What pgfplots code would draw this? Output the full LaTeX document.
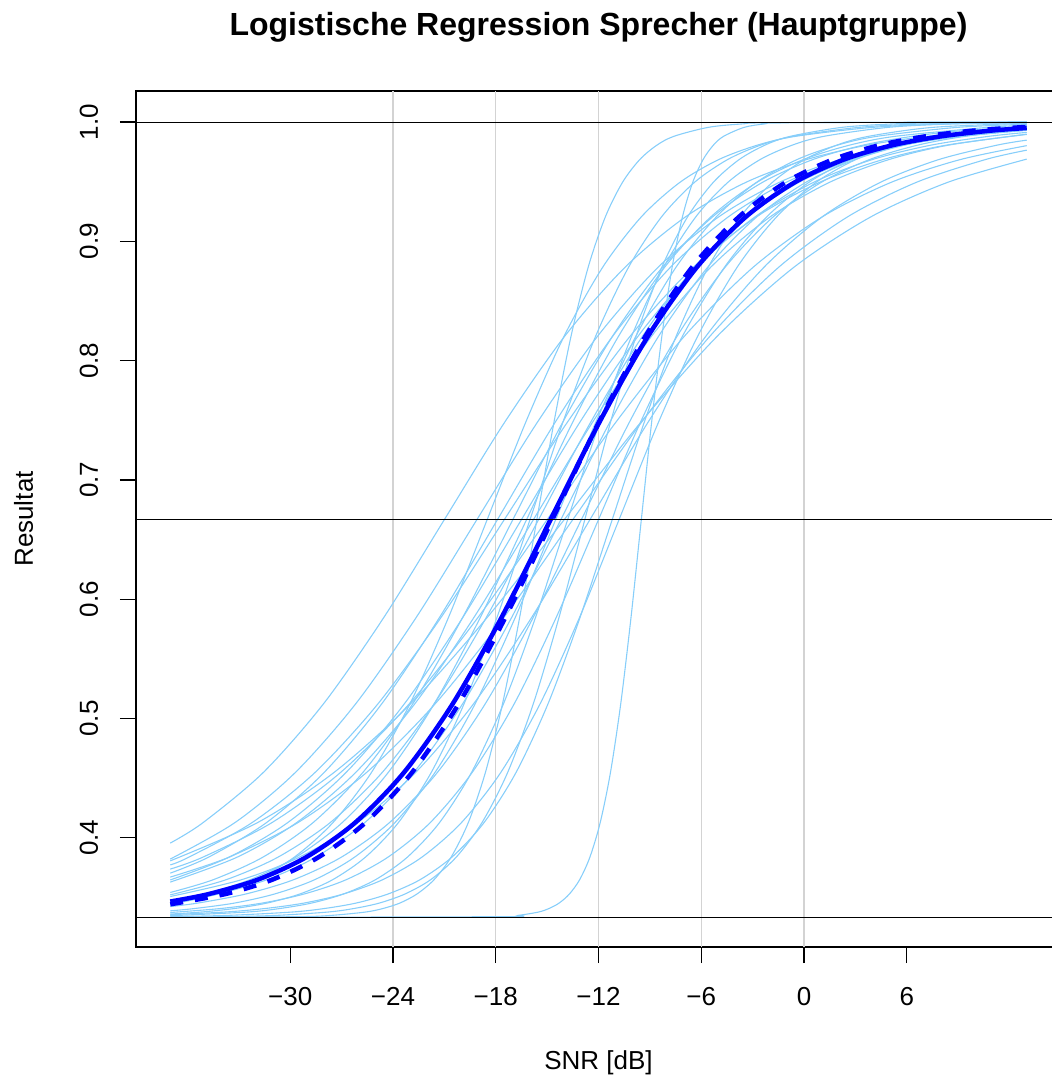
\documentclass[border=0pt]{standalone}
\usepackage{fontspec}
\setmainfont{Liberation Sans}
\usepackage{pgfplots}
\pgfplotsset{compat=1.18}
\definecolor{lsb}{RGB}{135,206,250}
\definecolor{lgray}{RGB}{211,211,211}
\pgfplotsset{spk/.style={lsb, line width=1.1pt, smooth, no markers}}
\begin{document}
\begin{tikzpicture}
\begin{axis}[
  scale only axis, width=925pt, height=856pt,
  xmin=-39, xmax=15, ymin=0.3085, ymax=1.026,
  axis line style={line width=1.3pt},
  tick pos=left, tick align=outside, major tick length=16pt,
  tick style={black, line width=1.3pt},
  xtick={-30,-24,-18,-12,-6,0,6},
  xticklabels={−30,−24,−18,−12,−6,0,6},
  ytick={0.4,0.5,0.6,0.7,0.8,0.9,1.0},
  yticklabels={0.4,0.5,0.6,0.7,0.8,0.9,1.0},
  xticklabel style={font=\fontsize{26}{26}\selectfont, anchor=base, yshift=-42pt},
  yticklabel style={font=\fontsize{26}{26}\selectfont, xshift=-22pt, rotate=90, anchor=base},
]
\coordinate (bl) at (rel axis cs:0,0);
\coordinate (tr) at (rel axis cs:1,1);
\coordinate (bc) at (rel axis cs:0.5,0);
\coordinate (tc) at (rel axis cs:0.5,1);
\coordinate (lc) at (rel axis cs:0,0.5);
% grid
\addplot[lgray, line width=1.3pt, no markers] coordinates {(-24,0.3085) (-24,1.026)};
\addplot[lgray, line width=1.3pt, no markers] coordinates {(-18,0.3085) (-18,1.026)};
\addplot[lgray, line width=1.3pt, no markers] coordinates {(-12,0.3085) (-12,1.026)};
\addplot[lgray, line width=1.3pt, no markers] coordinates {(-6,0.3085) (-6,1.026)};
\addplot[lgray, line width=1.3pt, no markers] coordinates {(0,0.3085) (0,1.026)};
% individual speakers
\addplot[spk] coordinates {(-37,0.3956) (-35.08,0.4128) (-31.56,0.4549) (-28.04,0.5126) (-24.52,0.5850) (-21,0.6667) (-17.48,0.7483) (-13.96,0.8207) (-10.44,0.8784) (-6.92,0.9205) (-3.40,0.9494) (0.12,0.9684) (3.64,0.9805) (7.16,0.9880) (10.68,0.9927) (13,0.9947)};
\addplot[spk] coordinates {(-37,0.3822) (-33.22,0.4128) (-29.69,0.4549) (-26.16,0.5126) (-22.63,0.5850) (-19.1,0.6667) (-15.57,0.7483) (-12.04,0.8207) (-8.51,0.8784) (-4.98,0.9205) (-1.45,0.9494) (2.08,0.9684) (5.61,0.9805) (9.14,0.9880) (13,0.9930)};
\addplot[spk] coordinates {(-37,0.3807) (-31.9,0.4128) (-27.43,0.4549) (-22.95,0.5126) (-18.48,0.5850) (-14,0.6667) (-9.53,0.7483) (-5.05,0.8207) (-0.58,0.8784) (3.9,0.9205) (8.38,0.9494) (13,0.9689)};
\addplot[spk] coordinates {(-37,0.3773) (-35.9,0.3839) (-32.22,0.4128) (-28.54,0.4549) (-24.86,0.5126) (-21.18,0.5850) (-17.5,0.6667) (-13.82,0.7483) (-10.14,0.8207) (-6.46,0.8784) (-2.78,0.9205) (0.9,0.9494) (4.58,0.9684) (8.26,0.9805) (13,0.9896)};
\addplot[spk] coordinates {(-37,0.3738) (-35.08,0.3839) (-31.06,0.4128) (-27.05,0.4549) (-23.03,0.5126) (-19.02,0.5850) (-15,0.6667) (-10.99,0.7483) (-6.97,0.8207) (-2.96,0.8784) (1.06,0.9205) (5.08,0.9494) (9.09,0.9684) (13,0.9802)};
\addplot[spk] coordinates {(-37,0.3704) (-34.75,0.3839) (-31.38,0.4128) (-28.01,0.4549) (-24.64,0.5126) (-21.27,0.5850) (-17.9,0.6667) (-14.53,0.7483) (-11.16,0.8207) (-7.79,0.8784) (-4.42,0.9205) (-1.05,0.9494) (2.32,0.9684) (5.69,0.9805) (9.06,0.9880) (13,0.9933)};
\addplot[spk] coordinates {(-37,0.3671) (-33.55,0.3839) (-29.54,0.4128) (-25.53,0.4549) (-21.52,0.5126) (-17.51,0.5850) (-13.5,0.6667) (-9.49,0.7483) (-5.48,0.8207) (-1.47,0.8784) (2.54,0.9205) (6.55,0.9494) (10.56,0.9684) (13,0.9764)};
\addplot[spk] coordinates {(-37,0.3647) (-33.55,0.3839) (-30.14,0.4128) (-26.73,0.4549) (-23.32,0.5126) (-19.91,0.5850) (-16.5,0.6667) (-13.09,0.7483) (-9.68,0.8207) (-6.27,0.8784) (-2.86,0.9205) (0.55,0.9494) (3.96,0.9684) (7.37,0.9805) (10.78,0.9880) (13,0.9913)};
\addplot[spk] coordinates {(-37,0.3629) (-33.08,0.3839) (-29.62,0.4128) (-26.17,0.4549) (-22.71,0.5126) (-19.26,0.5850) (-15.8,0.6667) (-12.35,0.7483) (-8.89,0.8207) (-5.44,0.8784) (-1.98,0.9205) (1.48,0.9494) (4.93,0.9684) (8.39,0.9805) (13,0.9898)};
\addplot[spk] coordinates {(-37,0.3542) (-34.49,0.3649) (-31.58,0.3839) (-28.66,0.4128) (-25.75,0.4549) (-22.83,0.5126) (-19.92,0.5850) (-17,0.6667) (-14.09,0.7483) (-11.17,0.8207) (-8.26,0.8784) (-5.34,0.9205) (-2.43,0.9494) (0.49,0.9684) (3.41,0.9805) (6.32,0.9880) (9.24,0.9927) (13,0.9961)};
\addplot[spk] coordinates {(-37,0.3522) (-33.74,0.3649) (-30.7,0.3839) (-27.66,0.4128) (-24.62,0.4549) (-21.58,0.5126) (-18.54,0.5850) (-15.5,0.6667) (-12.46,0.7483) (-9.42,0.8207) (-6.38,0.8784) (-3.34,0.9205) (-0.3,0.9494) (2.74,0.9684) (5.78,0.9805) (8.82,0.9880) (13,0.9939)};
\addplot[spk] coordinates {(-37,0.3508) (-32.84,0.3649) (-29.45,0.3839) (-26.06,0.4128) (-22.67,0.4549) (-19.28,0.5126) (-15.89,0.5850) (-12.5,0.6667) (-9.11,0.7483) (-5.72,0.8207) (-2.33,0.8784) (1.06,0.9205) (4.45,0.9494) (7.84,0.9684) (11.23,0.9805) (13,0.9848)};
\addplot[spk] coordinates {(-37,0.3470) (-35.03,0.3529) (-32.34,0.3649) (-29.65,0.3839) (-26.96,0.4128) (-24.27,0.4549) (-21.58,0.5126) (-18.89,0.5850) (-16.2,0.6667) (-13.51,0.7483) (-10.82,0.8207) (-8.13,0.8784) (-5.44,0.9205) (-2.75,0.9494) (-0.06,0.9684) (2.63,0.9805) (5.32,0.9880) (10.7,0.9955) (13,0.9971)};
\addplot[spk] coordinates {(-37,0.3455) (-34.22,0.3529) (-31.36,0.3649) (-28.5,0.3839) (-25.64,0.4128) (-22.78,0.4549) (-19.92,0.5126) (-17.06,0.5850) (-14.2,0.6667) (-11.34,0.7483) (-8.48,0.8207) (-5.62,0.8784) (-2.76,0.9205) (0.1,0.9494) (2.96,0.9684) (5.82,0.9805) (8.68,0.9880) (13,0.9943)};
\addplot[spk] coordinates {(-37,0.3424) (-35.4,0.3453) (-32.6,0.3529) (-29.8,0.3649) (-27,0.3839) (-24.2,0.4128) (-21.4,0.4549) (-18.6,0.5126) (-15.8,0.5850) (-13,0.6667) (-10.2,0.7483) (-7.4,0.8207) (-4.6,0.8784) (-1.8,0.9205) (1,0.9494) (3.8,0.9684) (6.6,0.9805) (9.4,0.9880) (13,0.9937)};
\addplot[spk] coordinates {(-37,0.3388) (-35.61,0.3407) (-33.26,0.3453) (-30.92,0.3529) (-28.57,0.3649) (-26.23,0.3839) (-23.88,0.4128) (-21.54,0.4549) (-19.19,0.5126) (-16.85,0.5850) (-14.5,0.6667) (-12.16,0.7483) (-9.81,0.8207) (-7.47,0.8784) (-5.12,0.9205) (-2.78,0.9494) (-0.43,0.9684) (1.92,0.9805) (4.26,0.9880) (8.95,0.9955) (13,0.9981)};
\addplot[spk] coordinates {(-37,0.3374) (-34.1,0.3407) (-31.64,0.3453) (-29.19,0.3529) (-26.73,0.3649) (-24.28,0.3839) (-21.82,0.4128) (-19.37,0.4549) (-16.91,0.5126) (-14.46,0.5850) (-12,0.6667) (-9.55,0.7483) (-7.09,0.8207) (-4.64,0.8784) (-2.18,0.9205) (0.28,0.9494) (2.73,0.9684) (5.19,0.9805) (7.64,0.9880) (10.1,0.9927) (13,0.9959)};
\addplot[spk] coordinates {(-37,0.3361) (-35.2,0.3378) (-33.28,0.3407) (-31.36,0.3453) (-29.44,0.3529) (-27.52,0.3649) (-25.6,0.3839) (-23.68,0.4128) (-21.76,0.4549) (-19.84,0.5126) (-17.92,0.5850) (-16,0.6667) (-14.08,0.7483) (-12.16,0.8207) (-10.24,0.8784) (-8.32,0.9205) (-6.4,0.9494) (-4.48,0.9684) (-2.56,0.9805) (-0.64,0.9880) (3.2,0.9955) (7.04,0.9984) (13,0.9996)};
\addplot[spk] coordinates {(-37,0.3347) (-32.5,0.3378) (-30.63,0.3407) (-28.76,0.3453) (-26.89,0.3529) (-25.02,0.3649) (-23.15,0.3839) (-21.28,0.4128) (-19.41,0.4549) (-17.54,0.5126) (-15.67,0.5850) (-13.8,0.6667) (-11.93,0.7483) (-10.06,0.8207) (-8.19,0.8784) (-6.32,0.9205) (-4.45,0.9494) (-2.58,0.9684) (-0.71,0.9805) (1.16,0.9880) (4.9,0.9955) (8.64,0.9984) (13,0.9995)};
\addplot[spk] coordinates {(-37,0.3340) (-33.64,0.3350) (-29.9,0.3378) (-28.03,0.3407) (-26.16,0.3453) (-24.29,0.3529) (-22.42,0.3649) (-20.55,0.3839) (-18.68,0.4128) (-16.81,0.4549) (-14.94,0.5126) (-13.07,0.5850) (-11.2,0.6667) (-9.33,0.7483) (-7.46,0.8207) (-5.59,0.8784) (-3.72,0.9205) (-1.85,0.9494) (0.02,0.9684) (1.89,0.9805) (3.76,0.9880) (7.5,0.9955) (13,0.9990)};
\addplot[spk] coordinates {(-37,0.3333) (-29.6,0.3339) (-27.6,0.3350) (-25.6,0.3378) (-24.6,0.3407) (-23.6,0.3453) (-22.6,0.3529) (-21.6,0.3649) (-20.6,0.3839) (-19.6,0.4128) (-18.6,0.4549) (-17.6,0.5126) (-16.6,0.5850) (-15.6,0.6667) (-14.6,0.7483) (-13.6,0.8207) (-12.6,0.8784) (-11.6,0.9205) (-10.6,0.9494) (-9.6,0.9684) (-8.6,0.9805) (-7.6,0.9880) (-5.6,0.9955) (-3.6,0.9984) (-1.6,0.9994) (13,1.0000)};
\addplot[spk] coordinates {(-37,0.3333) (-17.9,0.3339) (-16.7,0.3350) (-15.5,0.3378) (-14.9,0.3407) (-14.3,0.3453) (-13.7,0.3529) (-13.1,0.3649) (-12.5,0.3839) (-11.9,0.4128) (-11.3,0.4549) (-10.7,0.5126) (-10.1,0.5850) (-9.5,0.6667) (-8.9,0.7483) (-8.3,0.8207) (-7.7,0.8784) (-7.1,0.9205) (-6.5,0.9494) (-5.9,0.9684) (-5.3,0.9805) (-4.7,0.9880) (-3.5,0.9955) (-2.3,0.9984) (-1.1,0.9994) (13,1.0000)};
\addplot[spk] coordinates {(-37,0.3335) (-33.8,0.3339) (-30.8,0.3350) (-27.8,0.3378) (-26.3,0.3407) (-24.8,0.3453) (-23.3,0.3529) (-21.8,0.3649) (-20.3,0.3839) (-18.8,0.4128) (-17.3,0.4549) (-15.8,0.5126) (-14.3,0.5850) (-12.8,0.6667) (-11.3,0.7483) (-9.8,0.8207) (-8.3,0.8784) (-6.8,0.9205) (-5.3,0.9494) (-3.8,0.9684) (-2.3,0.9805) (-0.8,0.9880) (2.2,0.9955) (5.2,0.9984) (8.2,0.9994) (13,0.9999)};
\addplot[spk] coordinates {(-37,0.3356) (-33.8,0.3378) (-31.5,0.3407) (-29.2,0.3453) (-26.9,0.3529) (-24.6,0.3649) (-22.3,0.3839) (-20,0.4128) (-17.7,0.4549) (-15.4,0.5126) (-13.1,0.5850) (-10.8,0.6667) (-8.5,0.7483) (-6.2,0.8207) (-3.9,0.8784) (-1.6,0.9205) (0.7,0.9494) (3,0.9684) (5.3,0.9805) (7.6,0.9880) (9.9,0.9927) (13,0.9962)};
\addplot[spk] coordinates {(-37,0.3441) (-34.25,0.3529) (-32,0.3649) (-29.75,0.3839) (-27.5,0.4128) (-25.25,0.4549) (-23,0.5126) (-20.75,0.5850) (-18.5,0.6667) (-16.25,0.7483) (-14,0.8207) (-11.75,0.8784) (-9.5,0.9205) (-7.25,0.9494) (-5,0.9684) (-2.75,0.9805) (-0.5,0.9880) (4,0.9955) (8.5,0.9984) (13,0.9994)};
% group curves
\addplot[blue, line width=4.5pt, smooth, no markers] coordinates {(-37,0.3466) (-34.75,0.3529) (-31.9,0.3649) (-29.05,0.3839) (-26.2,0.4128) (-23.35,0.4549) (-20.5,0.5126) (-17.65,0.5850) (-14.8,0.6667) (-11.95,0.7483) (-9.1,0.8207) (-6.25,0.8784) (-3.4,0.9205) (-0.55,0.9494) (2.3,0.9684) (5.15,0.9805) (8.0,0.9880) (10.85,0.9927) (13,0.9950)};
\addplot[blue, line width=4.5pt, smooth, no markers, dash pattern=on 13pt off 12pt] coordinates {(-37,0.3443) (-33.78,0.3529) (-31.05,0.3649) (-28.33,0.3839) (-25.6,0.4128) (-22.88,0.4549) (-20.15,0.5126) (-17.43,0.5850) (-14.7,0.6667) (-11.98,0.7483) (-9.25,0.8207) (-6.53,0.8784) (-3.8,0.9205) (-1.08,0.9494) (1.65,0.9684) (4.38,0.9805) (7.1,0.9880) (9.83,0.9927) (13,0.9959)};
% reference lines
\addplot[black, line width=1pt, no markers] coordinates {(-39,1) (15,1)};
\addplot[black, line width=1pt, no markers] coordinates {(-39,0.66667) (15,0.66667)};
\addplot[black, line width=1pt, no markers] coordinates {(-39,0.33333) (15,0.33333)};
\end{axis}
\node[anchor=base, font=\bfseries\fontsize{32}{32}\selectfont] at ([yshift=55pt]tc) {Logistische Regression Sprecher (Hauptgruppe)};
\node[anchor=base, font=\fontsize{26}{26}\selectfont] at ([yshift=-122pt]bc) {SNR [dB]};
\node[anchor=base, rotate=90, font=\fontsize{26}{26}\selectfont] at ([xshift=-103pt]lc) {Resultat};
\pgfresetboundingbox
\path ([xshift=-136pt,yshift=-130pt]bl) rectangle ([xshift=-10pt,yshift=91pt]tr);
\end{tikzpicture}
\end{document}
